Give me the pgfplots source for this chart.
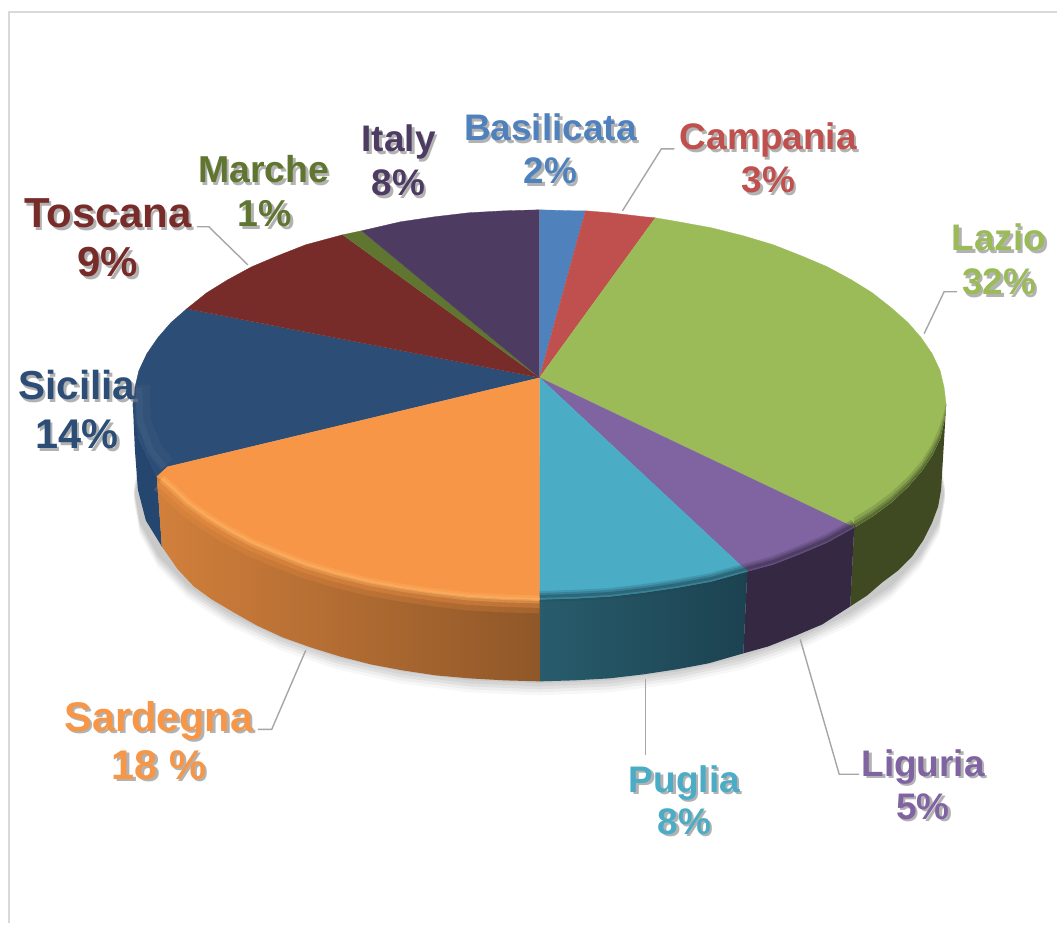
\documentclass[border=0pt]{standalone}
\usepackage{pgfplots}
\usepackage{pgfplotstable}
\usepackage{fontspec}
\setmainfont{Liberation Sans}
\pgfplotsset{compat=1.18}
\definecolor{cBas}{HTML}{4F81BD}
\definecolor{cCam}{HTML}{C0504D}
\definecolor{cLaz}{HTML}{9BBB59}
\definecolor{cLig}{HTML}{8064A2}
\definecolor{cPug}{HTML}{4BACC6}
\definecolor{cSar}{HTML}{F79646}
\definecolor{cSic}{HTML}{2C4D75}
\definecolor{cTos}{HTML}{772C2A}
\definecolor{cMar}{HTML}{5F7530}
\definecolor{cIta}{HTML}{4D3B62}
\definecolor{wLaz}{HTML}{3F4A23}
\definecolor{wLig}{HTML}{352843}
\definecolor{wPug}{HTML}{1C4250}
\definecolor{wSic}{HTML}{25466E}
\definecolor{leader}{HTML}{A6A6A6}
\definecolor{hSar}{HTML}{FFB565}
\pgfplotstableread{
x y
940 453
946 487
940 521
921 554
892 585
851 612
801 636
743 656
679 670
611 679
540 682
469 679
401 670
337 656
279 636
229 612
188 585
158 554
140 521
134 487
140 453
}\shadowarc
\pgfplotstableread{
x y
855 528
828 543
802 554
774 565
748 572
}\rimLiguria
\pgfplotstableread{
x y
748 572
712 582
679 588
645 593
611 597
575 599
540 600
}\rimPuglia
\pgfplotstableread{
x y
540 600
505 599
469 597
435 593
401 588
368 582
336 574
306 565
278 554
252 543
228 530
207 517
188 503
171 487
162 479
}\rimSardegna
\newcommand{\lab}[5]{%
  \node[anchor=base,text=gray,opacity=.6,font=\fontsize{#4}{#4}\selectfont\bfseries] at (axis cs:#1+2.5,#2+2.5) {#5};
  \node[anchor=base,text=#3,font=\fontsize{#4}{#4}\selectfont\bfseries] at (axis cs:#1,#2) {#5};
}
\begin{document}
\begin{tikzpicture}
\begin{axis}[
  scale only axis, width=1058pt, height=924pt,
  xmin=0, xmax=1058, ymin=0, ymax=924, y dir=reverse,
  hide axis, clip=false, no marks,
]
% background and frame
\addplot[fill=white,draw=none] coordinates {(0,0)(1058,0)(1058,924)(0,924)};
\addplot[color=black!15,line width=2pt] coordinates {(9,924)(9,12)(1058,12)};
% soft shadow
\addplot[fill=black,draw=none,opacity=.05,yshift=-2pt] table {\shadowarc};
\addplot[fill=black,draw=none,opacity=.05,yshift=-5pt] table {\shadowarc};
\addplot[fill=black,draw=none,opacity=.05,yshift=-8pt] table {\shadowarc};
\addplot[fill=black,draw=none,opacity=.04,yshift=-11pt] table {\shadowarc};
\addplot[fill=black,draw=none,opacity=.03,yshift=-14pt] table {\shadowarc};
% walls
\addplot[fill=wSic,draw=none] coordinates {(133,405)(135,450)(138,490)(146,521)(162,547)(157,477)(147,456)(139,439)};
\addplot[fill=wLaz,draw=none] coordinates {(947,405)(946,423)(942,490)(939,507)(933,523)(924,541)(913,557)(899,571)(883,583)(868,596)(851,607)(855,528)(873,517)(892,503)(909,487)(922,472)(933,456)(941,439)(945,422)};
\addplot[fill=wLig,draw=none] coordinates {(855,528)(828,543)(802,554)(774,565)(748,572)(744,654)(769,647)(797,636)(823,625)(851,607)};
\addplot[left color=wPug!60!cPug!85!black,right color=wPug,draw=none] coordinates {(748,572)(712,582)(679,588)(645,593)(611,597)(575,599)(540,600)(540,682)(575,681)(610,679)(644,675)(677,670)(709,664)(744,654)};
\addplot[left color=cSar!85!black,right color=cSar!58!black,draw=none] coordinates {(157,477)(162,547)(178,570)(194,587)(212,600)(234,613)(257,626)(283,638)(311,648)(340,657)(371,665)(403,671)(436,676)(470,679)(505,681)(540,682)(540,600)(505,599)(469,597)(435,593)(401,588)(368,582)(336,574)(306,565)(278,554)(252,543)(228,530)(207,517)(188,503)(171,487)};
% top faces
\addplot[fill=cBas,draw=cBas,line width=.3pt] coordinates {(540,378)(540,210)(575,211)(586,211)};
\addplot[fill=cCam,draw=cCam,line width=.3pt] coordinates {(540,378)(586,211)(611,213)(645,217)(656,218)};
\addplot[fill=cLaz,draw=cLaz,line width=.3pt] coordinates {(540,378)(656,218)(679,222)(712,228)(744,236)(774,245)(802,256)(828,267)(852,280)(873,293)(892,308)(909,323)(922,338)(933,354)(941,371)(945,388)(947,405)(945,422)(941,439)(933,456)(922,472)(909,487)(892,503)(873,517)(855,528)};
\addplot[fill=cLig,draw=cLig,line width=.3pt] coordinates {(540,378)(855,528)(828,543)(802,554)(774,565)(748,572)};
\addplot[fill=cPug,draw=cPug,line width=.3pt] coordinates {(540,378)(748,572)(712,582)(679,588)(645,593)(611,597)(575,599)(540,600)};
\addplot[fill=cSic,draw=cSic,line width=.3pt] coordinates {(540,378)(168,467)(157,477)(147,456)(139,439)(135,422)(133,405)(135,388)(139,371)(147,354)(158,338)(171,323)(187,309)};
\addplot[fill=cTos,draw=cTos,line width=.3pt] coordinates {(540,378)(187,309)(207,293)(228,280)(252,267)(278,256)(306,245)(343,235)};
\addplot[fill=cMar,draw=cMar,line width=.3pt] coordinates {(540,378)(343,235)(362,231)};
\addplot[fill=cIta,draw=cIta,line width=.3pt] coordinates {(540,378)(362,231)(401,222)(435,217)(469,213)(505,211)(540,210)};
\addplot[fill=cSar,draw=cSar,line width=.3pt] coordinates {(540,378)(540,600)(505,599)(469,597)(435,593)(401,588)(368,582)(336,574)(306,565)(278,554)(252,543)(228,530)(207,517)(188,503)(171,487)(157,477)(168,467)};
% bevels
\addplot[fill=wLaz,draw=none,opacity=.2] coordinates {(947,405)(945,422)(941,439)(933,456)(922,472)(909,487)(892,503)(873,517)(855,528)(855,518)(873,507)(892,493)(909,477)(922,462)(932,446)(939,431)(944,416)};
\addplot[fill=wLaz,draw=none,opacity=.3] coordinates {(947,405)(945,422)(941,439)(933,456)(922,472)(909,487)(892,503)(873,517)(855,528)(855,522)(873,511)(892,497)(909,481)(922,466)(932,450)(940,435)(945,418)};
\addplot[fill=wLaz,draw=none,opacity=.45] coordinates {(947,405)(945,422)(941,439)(933,456)(922,472)(909,487)(892,503)(873,517)(855,528)(855,525)(873,514)(892,500)(909,484)(922,469)(933,453)(941,436)(945,420)};
\addplot[wLig,opacity=.18,line width=11pt,yshift=3pt,line join=round] table {\rimLiguria};
\addplot[wPug,opacity=.18,line width=11pt,yshift=3pt,line join=round] table {\rimPuglia};
\addplot[wLig,opacity=.25,line width=7pt,yshift=3pt,line join=round] table {\rimLiguria};
\addplot[wPug,opacity=.25,line width=7pt,yshift=3pt,line join=round] table {\rimPuglia};
\addplot[wLig,opacity=.4,line width=3pt,yshift=3pt,line join=round] table {\rimLiguria};
\addplot[wPug,opacity=.4,line width=3pt,yshift=3pt,line join=round] table {\rimPuglia};
\addplot[color=cSar,opacity=.2,line width=24pt,line join=round,yshift=-2pt] table {\rimSardegna};
\addplot[color=cSar,opacity=.3,line width=15pt,line join=round,yshift=-1pt] table {\rimSardegna};
\addplot[color=hSar,opacity=.35,line width=8pt,line join=round] table {\rimSardegna};
\addplot[color=hSar,opacity=.5,line width=3pt,line join=round] table {\rimSardegna};
\addplot[color=cSic!85!white,opacity=.2,line width=14pt,line join=round] coordinates {(143,385)(144,422)(156,450)(168,464)};
\addplot[color=cSic!85!white,opacity=.3,line width=7pt,line join=round] coordinates {(139,388)(140,422)(151,452)(164,468)};
% leader lines
\addplot[leader,line width=1.4pt] coordinates {(623,211)(662,149)(675,149)};
\addplot[leader,line width=1.4pt] coordinates {(925,334)(945,292)(958,292)};
\addplot[leader,line width=1.4pt] coordinates {(801,640)(840,775)(860,775)};
\addplot[leader,line width=1.4pt] coordinates {(646,680)(646,756)};
\addplot[leader,line width=1.4pt] coordinates {(306,651)(272,730)(258,730)};
\addplot[leader,line width=1.4pt] coordinates {(248,265)(209,227)(197,227)};
% labels
\lab{551}{141}{cBas}{37}{Basilicata}
\lab{551}{184}{cBas}{37}{2\%}
\lab{769}{150}{cCam}{37}{Campania}
\lab{769}{193}{cCam}{37}{3\%}
\lab{1000}{251}{cLaz}{37}{Lazio}
\lab{1000}{295}{cLaz}{37}{32\%}
\lab{924}{777}{cLig}{37}{Liguria}
\lab{924}{820}{cLig}{37}{5\%}
\lab{685}{793}{cPug}{37}{Puglia}
\lab{685}{835}{cPug}{37}{8\%}
\lab{159}{732}{cSar}{41.5}{Sardegna}
\lab{159}{780}{cSar}{41.5}{18 \%}
\lab{77}{400}{cSic}{40.5}{Sicilia}
\lab{77}{449}{cSic}{41.5}{14\%}
\lab{108}{228}{cTos}{42}{Toscana}
\lab{108}{277}{cTos}{42}{9\%}
\lab{264}{183}{cMar}{37.5}{Marche}
\lab{265}{227}{cMar}{37.5}{1\%}
\lab{399}{152}{cIta}{37}{Italy}
\lab{399}{196}{cIta}{37}{8\%}
\end{axis}
\end{tikzpicture}
\end{document}
